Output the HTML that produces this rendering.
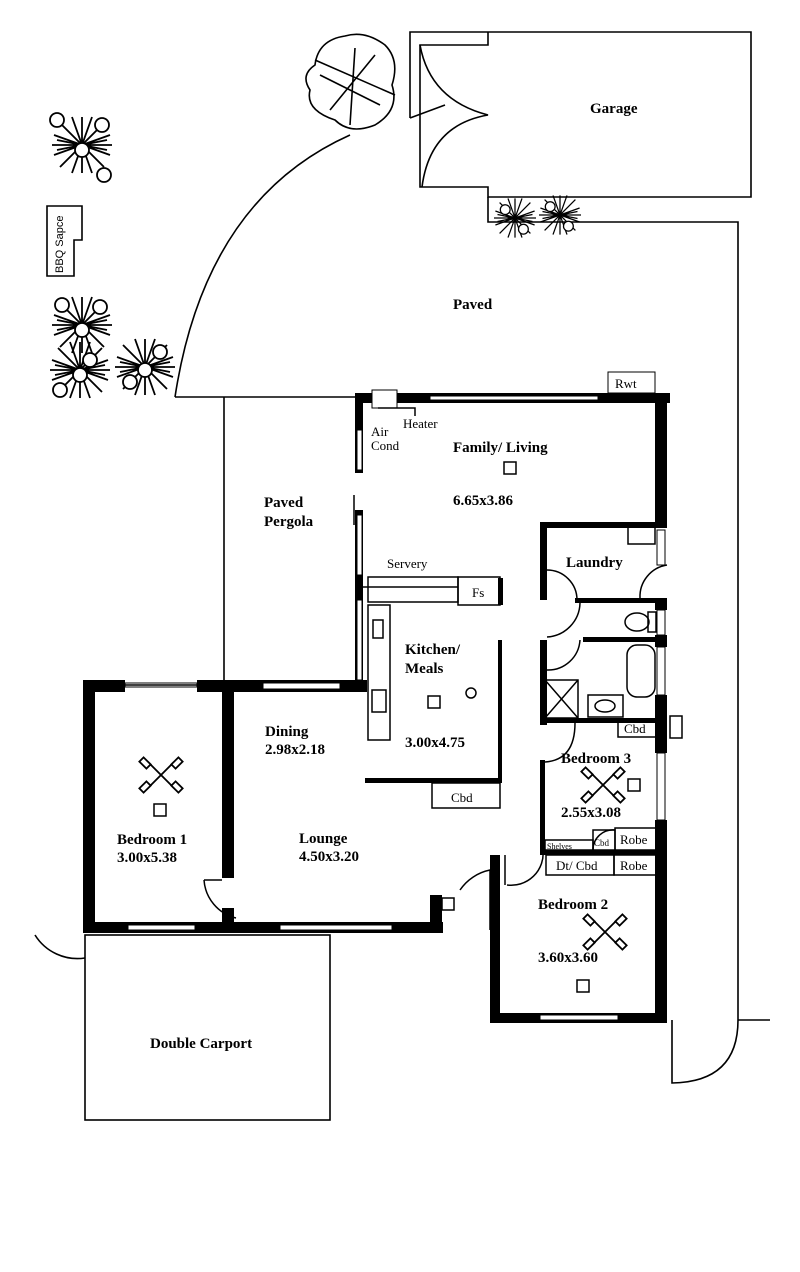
<!DOCTYPE html>
<html><head><meta charset="utf-8"><style>
html,body{margin:0;padding:0;background:#fff;}
svg{display:block}
text{font-family:"Liberation Serif",serif;fill:#000}
.b{font-weight:bold;font-size:15px}
.s{font-size:13px}
</style></head><body>
<svg width="800" height="1272" viewBox="0 0 800 1272" xmlns="http://www.w3.org/2000/svg">
<defs>
<g id="shrub"><path d="M-30,0 H30 M0,-28 V28 M-22,-22 L22,22 M-22,22 L22,-22 M-28,-10 L28,10 M-28,10 L28,-10 M-10,-28 L10,28 M10,-28 L-10,28 M-25,-5 L25,5 M-25,5 L25,-5"/></g>
<g id="fan"><path d="M-13,-13 L13,13 M-13,13 L13,-13"/><rect x="-19" y="-17" width="6" height="10" transform="rotate(-45 -16 -12)"/><rect x="13" y="-17" width="6" height="10" transform="rotate(45 16 -12)"/><rect x="-19" y="7" width="6" height="10" transform="rotate(45 -16 12)"/><rect x="13" y="7" width="6" height="10" transform="rotate(-45 16 12)"/></g>
</defs>
<g fill="none" stroke="#000" stroke-width="1.6">
<path d="M410,118 V32 H751 V197 H488 V187 H420 V45 H488 V32"/>
<path d="M420,45 Q430,100 488,115 Q430,125 422,187"/>
<path d="M488,197 V222 H738 V1020 Q738,1082 672,1083 V1020"/>
<path d="M738,1020 H770"/>
<path d="M410,118 L445,105"/>
<path d="M175,397 Q205,200 350,135"/>
<path d="M175,397 H360"/>
<path d="M224,397 V683"/>
<rect x="85" y="935" width="245" height="185"/>
<path d="M85,958 A50,50 0 0 1 35,935"/>
<path d="M47,206 H82 V240 H74 V276 H47 Z"/>
<path d="M315,65 Q318,40 345,36 Q365,30 385,45 Q400,60 392,85 Q400,110 375,125 Q350,135 335,120 Q305,110 310,90 Q300,75 315,65Z"/>
<path d="M320,75 L380,105 M355,48 L350,125 M330,110 L375,55 M315,60 L395,95"/>
</g>
<g stroke="#000" stroke-width="1.8" fill="none">
<g transform="translate(82,145)"><use href="#shrub"/><circle cx="-25" cy="-25" r="7" fill="#fff"/><circle cx="20" cy="-20" r="7" fill="#fff"/><circle cx="22" cy="30" r="7" fill="#fff"/><circle cx="0" cy="5" r="7" fill="#fff"/></g>
<g transform="translate(82,325)"><use href="#shrub"/><circle cx="-20" cy="-20" r="7" fill="#fff"/><circle cx="18" cy="-18" r="7" fill="#fff"/><circle cx="0" cy="5" r="7" fill="#fff"/></g>
<g transform="translate(80,370)"><use href="#shrub"/><circle cx="-20" cy="20" r="7" fill="#fff"/><circle cx="10" cy="-10" r="7" fill="#fff"/><circle cx="0" cy="5" r="7" fill="#fff"/></g>
<g transform="translate(145,367)"><use href="#shrub"/><circle cx="15" cy="-15" r="7" fill="#fff"/><circle cx="-15" cy="15" r="7" fill="#fff"/><circle cx="0" cy="3" r="7" fill="#fff"/></g>
<g transform="translate(515,218) scale(0.7)"><use href="#shrub"/><circle cx="-14" cy="-12" r="7" fill="#fff"/><circle cx="12" cy="16" r="7" fill="#fff"/></g>
<g transform="translate(560,215) scale(0.7)"><use href="#shrub"/><circle cx="-14" cy="-12" r="7" fill="#fff"/><circle cx="12" cy="16" r="7" fill="#fff"/></g>
</g>
<text x="0" y="0" transform="translate(63,273) rotate(-90)" style="font-family:'Liberation Sans',sans-serif;font-size:11px">BBQ Sapce</text>

<g fill="#000">
<rect x="355" y="393" width="315" height="10"/>
<rect x="655" y="393" width="12" height="135"/>
<rect x="355" y="393" width="8" height="80"/>
<rect x="355" y="510" width="8" height="180"/>
<rect x="540" y="522" width="7" height="78"/>
<rect x="540" y="522" width="125" height="6"/>
<rect x="540" y="640" width="7" height="85"/>
<rect x="575" y="598" width="90" height="5"/>
<rect x="583" y="637" width="82" height="5"/>
<rect x="655" y="598" width="12" height="12"/>
<rect x="655" y="635" width="12" height="12"/>
<rect x="655" y="695" width="12" height="25"/>
<rect x="540" y="718" width="127" height="5"/>
<rect x="655" y="718" width="12" height="35"/>
<rect x="655" y="820" width="12" height="200"/>
<rect x="540" y="760" width="5" height="93"/>
<rect x="540" y="850" width="125" height="5"/>
<rect x="490" y="855" width="10" height="165"/>
<rect x="490" y="1013" width="177" height="10"/>
<rect x="498" y="578" width="5" height="27"/>
<rect x="498" y="640" width="4" height="142"/>
<rect x="365" y="778" width="137" height="5"/>
<rect x="83" y="680" width="12" height="253"/>
<rect x="83" y="680" width="42" height="12"/>
<rect x="197" y="680" width="170" height="12"/>
<rect x="222" y="680" width="12" height="198"/>
<rect x="222" y="908" width="12" height="25"/>
<rect x="83" y="922" width="360" height="11"/>
<rect x="430" y="895" width="12" height="38"/>
<rect x="355" y="575" width="8" height="40"/>
</g>
<g fill="#fff" stroke="#000" stroke-width="1">
<rect x="430" y="396" width="168" height="4"/>
<rect x="657" y="530" width="8" height="35"/>
<rect x="657" y="610" width="8" height="25"/>
<rect x="657" y="647" width="8" height="48"/>
<rect x="657" y="753" width="8" height="67"/>
<rect x="357" y="430" width="5" height="40"/>
<rect x="357" y="515" width="5" height="60"/>
<rect x="357" y="600" width="5" height="80"/>
<rect x="125" y="683" width="72" height="4"/>
<rect x="263" y="683" width="77" height="6"/>
<rect x="128" y="925" width="67" height="5"/>
<rect x="280" y="925" width="112" height="5"/>
<rect x="540" y="1015" width="78" height="5"/>
<rect x="372" y="390" width="25" height="18"/>
<rect x="608" y="372" width="47" height="21"/>
</g>
<g fill="none" stroke="#000" stroke-width="1.5">
<path d="M354,495 V525"/>
<path d="M378,408 H415 V416"/>
<rect x="368" y="577" width="90" height="25"/>
<rect x="458" y="577" width="42" height="28"/>
<path d="M363,587 H458"/>
<rect x="368" y="605" width="22" height="135"/>
<rect x="372" y="690" width="14" height="22"/>
<rect x="373" y="620" width="10" height="18"/>
<rect x="432" y="783" width="68" height="25"/>
<circle cx="471" cy="693" r="5"/>
<rect x="628" y="527" width="27" height="17"/>
<path d="M547,570 A30,30 0 0 1 577,600"/>
<path d="M547,670 A32,32 0 0 0 580,640"/>
<path d="M580,603 A35,35 0 0 1 547,637"/>
<path d="M667,565 A32,32 0 0 0 640,598"/>
<ellipse cx="637" cy="622" rx="12" ry="9"/>
<rect x="648" y="612" width="8" height="20"/>
<rect x="627" y="645" width="28" height="52" rx="10"/>
<rect x="545" y="680" width="33" height="38"/>
<path d="M545,680 L578,718 M578,680 L545,718"/>
<rect x="588" y="695" width="35" height="22"/>
<ellipse cx="605" cy="706" rx="10" ry="6"/>
<rect x="618" y="720" width="38" height="17"/>
<rect x="670" y="716" width="12" height="22"/>
<path d="M545,762 Q575,760 575,723"/>
<rect x="545" y="840" width="48" height="10"/>
<rect x="593" y="830" width="22" height="20"/>
<rect x="615" y="828" width="42" height="22"/>
<rect x="546" y="855" width="68" height="20"/>
<rect x="614" y="855" width="43" height="20"/>
<path d="M593,850 A20,20 0 0 1 615,830"/>
<path d="M507,885 A32,32 0 0 0 543,850"/>
<path d="M505,855 V885"/>
<path d="M204,880 A42,42 0 0 0 236,918"/>
<path d="M204,880 H222"/>
<path d="M460,890 A48,48 0 0 1 490,870 V930"/>
<rect x="442" y="898" width="12" height="12"/>
<path d="M125,685 H197"/>
</g>
<g stroke="#000" stroke-width="1.8" fill="#fff">
<use href="#fan" transform="translate(161,775)"/>
<use href="#fan" transform="translate(603,785)"/>
<use href="#fan" transform="translate(605,932)"/>
</g>
<g fill="#fff" stroke="#000" stroke-width="1.5">
<rect x="504" y="462" width="12" height="12"/>
<rect x="428" y="696" width="12" height="12"/>
<rect x="154" y="804" width="12" height="12"/>
<rect x="628" y="779" width="12" height="12"/>
<rect x="577" y="980" width="12" height="12"/>
</g>
<text class="b" x="590" y="113">Garage</text>
<text class="b" x="453" y="309">Paved</text>
<text class="s" x="615" y="388">Rwt</text>
<text class="s" x="371" y="436">Air</text>
<text class="s" x="371" y="450">Cond</text>
<text class="s" x="403" y="428">Heater</text>
<text class="b" x="453" y="452">Family/ Living</text>
<text class="b" x="453" y="505">6.65x3.86</text>
<text class="b" x="264" y="507">Paved</text>
<text class="b" x="264" y="526">Pergola</text>
<text class="s" x="387" y="568">Servery</text>
<text class="s" x="472" y="597">Fs</text>
<text class="b" x="566" y="567">Laundry</text>
<text class="b" x="405" y="654">Kitchen/</text>
<text class="b" x="405" y="673">Meals</text>
<text class="b" x="405" y="747">3.00x4.75</text>
<text class="b" x="265" y="736">Dining</text>
<text class="b" x="265" y="754">2.98x2.18</text>
<text class="s" x="451" y="802">Cbd</text>
<text class="s" x="624" y="733">Cbd</text>
<text class="b" x="561" y="763">Bedroom 3</text>
<text class="b" x="561" y="817">2.55x3.08</text>
<text x="547" y="849" style="font-size:8px">Shelves</text>
<text x="594" y="846" style="font-size:9px">Cbd</text>
<text class="s" x="620" y="844">Robe</text>
<text class="s" x="556" y="870">Dt/ Cbd</text>
<text class="s" x="620" y="870">Robe</text>
<text class="b" x="117" y="844">Bedroom 1</text>
<text class="b" x="117" y="862">3.00x5.38</text>
<text class="b" x="299" y="843">Lounge</text>
<text class="b" x="299" y="861">4.50x3.20</text>
<text class="b" x="538" y="909">Bedroom 2</text>
<text class="b" x="538" y="962">3.60x3.60</text>
<text class="b" x="150" y="1048">Double Carport</text>
</svg>
</body></html>
